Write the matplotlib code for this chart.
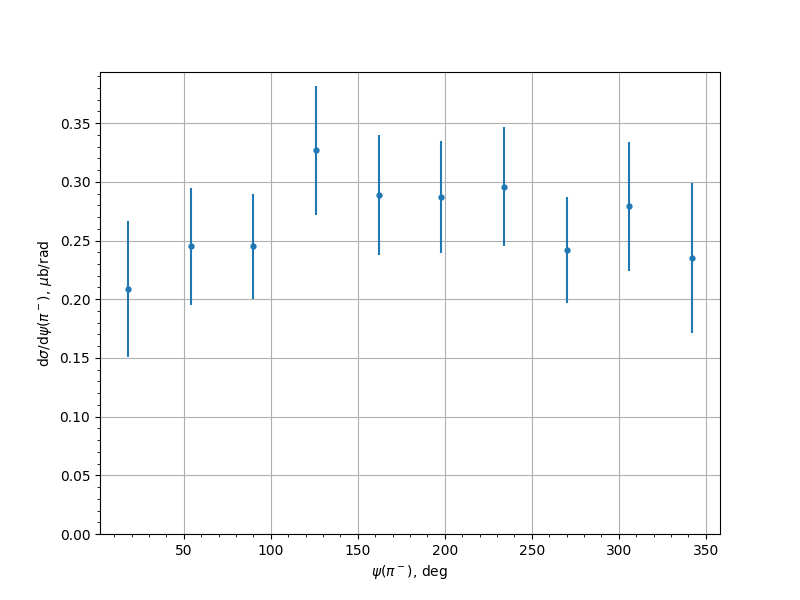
import matplotlib
matplotlib.use("Agg")
import matplotlib.pyplot as plt
import numpy as np

# angle bins (deg) and measured cross section
psi = [18, 54, 90, 126, 162, 198, 234, 270, 306, 342]
dsig = [0.209, 0.245, 0.245, 0.327, 0.289, 0.287, 0.296, 0.242, 0.279, 0.235]
err = [0.058, 0.050, 0.045, 0.055, 0.051, 0.048, 0.051, 0.045, 0.055, 0.064]

fig, ax = plt.subplots(figsize=(8, 6), dpi=100)
ax.errorbar(psi, dsig, yerr=err, fmt='o', markersize=3.5, color='tab:blue', elinewidth=1.5)
ax.set_ylim(bottom=0)
ax.minorticks_on()
ax.grid(True, which='major')
ax.set_xlabel(r'$\psi(\pi^-)$, deg')
ax.set_ylabel(r'd$\sigma$/d$\psi(\pi^-)$, $\mu$b/rad')
fig.savefig('out.png')
